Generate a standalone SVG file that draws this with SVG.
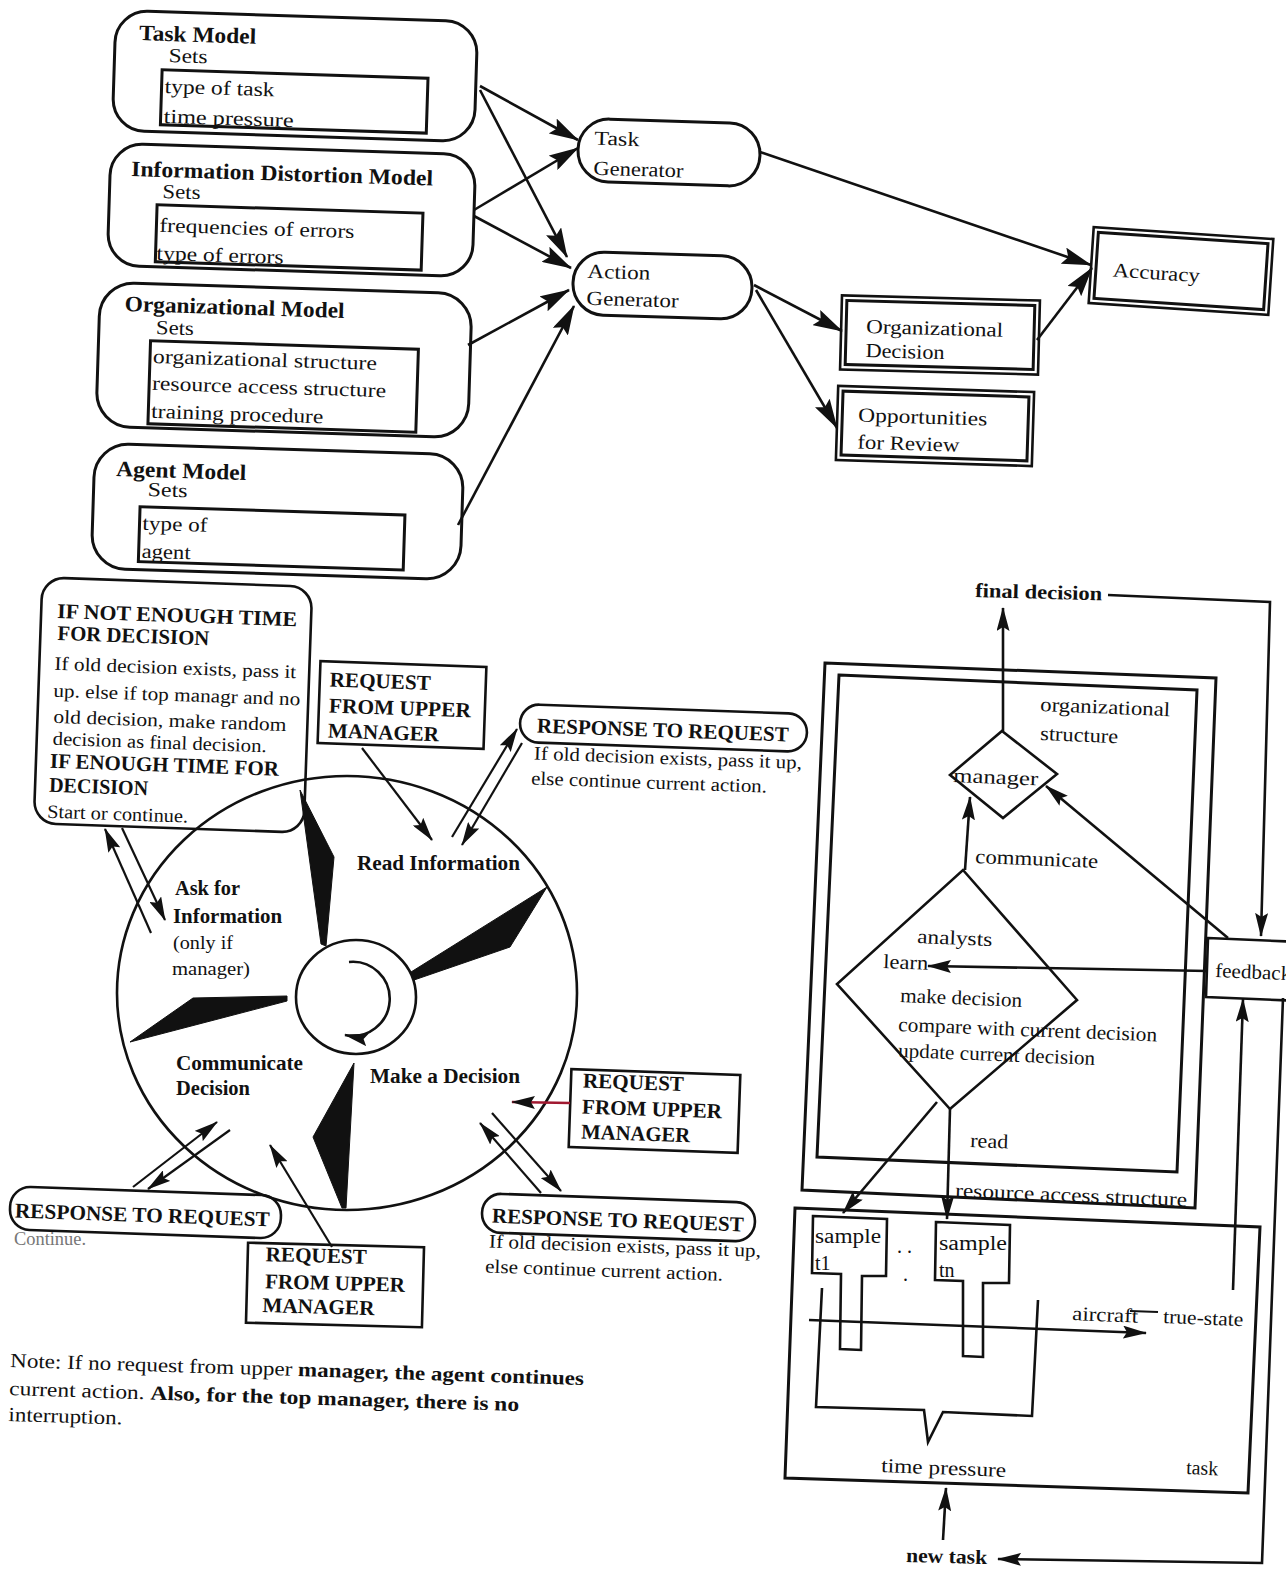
<svg xmlns="http://www.w3.org/2000/svg" width="1286" height="1570" viewBox="0 0 1286 1570">
<defs>
<style>
.bx{fill:none;stroke:#111;stroke-width:3}
.ln{fill:none;stroke:#111;stroke-width:2.6}
.thin{fill:none;stroke:#111;stroke-width:2.2}
.t{font-family:"Liberation Serif","Times New Roman",serif;font-size:20px;fill:#111}
.tb{font-weight:bold}
.big{font-size:22px}
.cap{font-size:21px;font-weight:bold}
.sm{font-size:19px}
.blade{fill:#111;stroke:#111;stroke-width:1}
.a{marker-end:url(#ah)}
.al{marker-end:url(#ahL)}
</style>
<marker id="ah" viewBox="0 0 24 13" refX="23" refY="6.5" markerWidth="24" markerHeight="13" markerUnits="userSpaceOnUse" orient="auto"><path d="M0,0 L24,6.5 L0,13 L4,6.5 z" fill="#111"/></marker>
<marker id="ahL" viewBox="0 0 30 17" refX="29" refY="8.5" markerWidth="30" markerHeight="17" markerUnits="userSpaceOnUse" orient="auto"><path d="M0,0 L30,8.5 L0,17 L5,8.5 z" fill="#111"/></marker>
</defs>
<rect width="1286" height="1570" fill="#fff"/>

<!-- ===== Top section nodes ===== -->
<g id="task-model" transform="rotate(1.8 295 76)">
<rect class="bx" x="114" y="16" width="362" height="120" rx="32"/>
<text class="t tb big" x="138" y="45" textLength="117" lengthAdjust="spacingAndGlyphs">Task Model</text>
<text class="t" x="168" y="66" textLength="39" lengthAdjust="spacingAndGlyphs">Sets</text>
<rect class="bx" x="162" y="74" width="266" height="55"/>
<text class="t" x="165" y="97" textLength="110" lengthAdjust="spacingAndGlyphs">type of task</text>
<text class="t" x="165" y="127" textLength="130" lengthAdjust="spacingAndGlyphs">time pressure</text>
</g>
<g id="info-distortion-model" transform="rotate(1.8 291 210)">
<rect class="bx" x="109" y="149" width="365" height="122" rx="32"/>
<text class="t tb big" x="130" y="181" textLength="302" lengthAdjust="spacingAndGlyphs">Information Distortion Model</text>
<text class="t" x="162" y="202" textLength="38" lengthAdjust="spacingAndGlyphs">Sets</text>
<rect class="bx" x="157" y="209" width="266" height="57"/>
<text class="t" x="160" y="236" textLength="195" lengthAdjust="spacingAndGlyphs">frequencies of errors</text>
<text class="t" x="158" y="264" textLength="127" lengthAdjust="spacingAndGlyphs">type of errors</text>
</g>
<g id="organizational-model" transform="rotate(1.8 284 360)">
<rect class="bx" x="98" y="288" width="372" height="144" rx="34"/>
<text class="t tb big" x="123" y="316" textLength="220" lengthAdjust="spacingAndGlyphs">Organizational Model</text>
<text class="t" x="155" y="338" textLength="38" lengthAdjust="spacingAndGlyphs">Sets</text>
<rect class="bx" x="150" y="345" width="268" height="83"/>
<text class="t" x="153" y="367" textLength="224" lengthAdjust="spacingAndGlyphs">organizational structure</text>
<text class="t" x="153" y="394" textLength="234" lengthAdjust="spacingAndGlyphs">resource access structure</text>
<text class="t" x="153" y="422" textLength="172" lengthAdjust="spacingAndGlyphs">training procedure</text>
</g>
<g id="agent-model" transform="rotate(1.8 277 511)">
<rect class="bx" x="93" y="449" width="369" height="125" rx="34"/>
<text class="t tb big" x="115" y="481" textLength="130" lengthAdjust="spacingAndGlyphs">Agent Model</text>
<text class="t" x="147" y="500" textLength="40" lengthAdjust="spacingAndGlyphs">Sets</text>
<rect class="bx" x="140" y="511" width="265" height="55"/>
<text class="t" x="143" y="534" textLength="65" lengthAdjust="spacingAndGlyphs">type of</text>
<text class="t" x="143" y="562" textLength="49" lengthAdjust="spacingAndGlyphs">agent</text>
</g>
<g id="task-generator" transform="rotate(1.8 669 152)">
<rect class="bx" x="578" y="121" width="182" height="63" rx="31"/>
<text class="t" x="594" y="147" textLength="45" lengthAdjust="spacingAndGlyphs">Task</text>
<text class="t" x="594" y="177" textLength="90" lengthAdjust="spacingAndGlyphs">Generator</text>
</g>
<g id="action-generator" transform="rotate(1.8 662 285)">
<rect class="bx" x="573" y="254" width="179" height="63" rx="31"/>
<text class="t" x="587" y="280" textLength="63" lengthAdjust="spacingAndGlyphs">Action</text>
<text class="t" x="587" y="307" textLength="92" lengthAdjust="spacingAndGlyphs">Generator</text>
</g>
<g id="accuracy" transform="rotate(3.8 1181 271)">
<rect class="ln" x="1091" y="233" width="180" height="76"/>
<rect class="bx" x="1096" y="238" width="170" height="66"/>
<text class="t" x="1113" y="281" textLength="87" lengthAdjust="spacingAndGlyphs">Accuracy</text>
</g>
<g id="organizational-decision" transform="rotate(1.5 940 335)">
<rect class="ln" x="841" y="298" width="198" height="74"/>
<rect class="bx" x="846" y="303" width="188" height="64"/>
<text class="t" x="866" y="335" textLength="137" lengthAdjust="spacingAndGlyphs">Organizational</text>
<text class="t" x="866" y="359" textLength="79" lengthAdjust="spacingAndGlyphs">Decision</text>
</g>
<g id="opportunities-for-review" transform="rotate(1.8 935 426)">
<rect class="ln" x="837" y="389" width="196" height="74"/>
<rect class="bx" x="842" y="394" width="186" height="64"/>
<text class="t" x="858" y="424" textLength="129" lengthAdjust="spacingAndGlyphs">Opportunities</text>
<text class="t" x="858" y="451" textLength="102" lengthAdjust="spacingAndGlyphs">for Review</text>
</g>

<!-- ===== Bottom-left nodes ===== -->
<g id="cycle-wheel">
<ellipse class="ln" cx="347" cy="993" rx="230" ry="217"/>
<ellipse class="ln" cx="356" cy="997" rx="60" ry="57"/>
<path class="ln" d="M349,962 A37,37 0 1 1 345,1035" marker-end="url(#ah)"/>
<polygon class="blade" points="300,790 334,857 326,946 321,944"/>
<polygon class="blade" points="547,887 510,947 414,980 411,972"/>
<polygon class="blade" points="130,1042 193,998 287,996 287,1001"/>
<polygon class="blade" points="354,1063 313,1137 342,1208 346,1208"/>
<text class="t tb" x="357" y="870" textLength="163" lengthAdjust="spacingAndGlyphs">Read Information</text>
<text class="t tb" x="175" y="895" textLength="65" lengthAdjust="spacingAndGlyphs">Ask for</text>
<text class="t tb" x="173" y="923" textLength="109" lengthAdjust="spacingAndGlyphs">Information</text>
<text class="t sm" x="173" y="949" textLength="60" lengthAdjust="spacingAndGlyphs">(only if</text>
<text class="t sm" x="172" y="975" textLength="78" lengthAdjust="spacingAndGlyphs">manager)</text>
<text class="t tb" x="176" y="1070" textLength="127" lengthAdjust="spacingAndGlyphs">Communicate</text>
<text class="t tb" x="176" y="1095" textLength="74" lengthAdjust="spacingAndGlyphs">Decision</text>
<text class="t tb" x="370" y="1083" textLength="150" lengthAdjust="spacingAndGlyphs">Make a Decision</text>
</g>
<g id="time-check" transform="rotate(2 173 705)">
<rect class="ln" x="38" y="582" width="270" height="246" rx="22"/>
<text class="t cap" x="54" y="622" textLength="240" lengthAdjust="spacingAndGlyphs">IF  NOT ENOUGH TIME</text>
<text class="t cap" x="55" y="644" textLength="152" lengthAdjust="spacingAndGlyphs">FOR DECISION</text>
<text class="t sm" x="53" y="674" textLength="242" lengthAdjust="spacingAndGlyphs">If old decision exists, pass it</text>
<text class="t sm" x="53" y="701" textLength="247" lengthAdjust="spacingAndGlyphs">up. else if top managr and no</text>
<text class="t sm" x="54" y="727" textLength="233" lengthAdjust="spacingAndGlyphs">old decision, make  random</text>
<text class="t sm" x="54" y="749" textLength="214" lengthAdjust="spacingAndGlyphs">decision as final decision.</text>
<text class="t cap" x="52" y="772" textLength="229" lengthAdjust="spacingAndGlyphs">IF ENOUGH TIME FOR</text>
<text class="t cap" x="52" y="796" textLength="99" lengthAdjust="spacingAndGlyphs">DECISION</text>
<text class="t sm" x="51" y="822" textLength="141" lengthAdjust="spacingAndGlyphs">Start or continue.</text>
</g>
<g id="request-top" transform="rotate(2 402 705)">
<rect class="ln" x="319" y="664" width="166" height="82"/>
<text class="t cap" x="329" y="689" textLength="101" lengthAdjust="spacingAndGlyphs">REQUEST</text>
<text class="t cap" x="329" y="715" textLength="142" lengthAdjust="spacingAndGlyphs">FROM UPPER</text>
<text class="t cap" x="329" y="740" textLength="111" lengthAdjust="spacingAndGlyphs">MANAGER</text>
</g>
<g id="response-top" transform="rotate(2 663 728)">
<rect class="ln" x="520" y="709" width="287" height="38" rx="19"/>
<text class="t cap" x="537" y="737" textLength="252" lengthAdjust="spacingAndGlyphs">RESPONSE TO REQUEST</text>
<text class="t sm" x="535" y="764" textLength="268" lengthAdjust="spacingAndGlyphs">If old decision exists, pass it up,</text>
<text class="t sm" x="533" y="789" textLength="236" lengthAdjust="spacingAndGlyphs">else continue current action.</text>
</g>
<g id="request-right" transform="rotate(2 654 1111)">
<rect class="ln" x="570" y="1072" width="169" height="78"/>
<text class="t cap" x="582" y="1090" textLength="101" lengthAdjust="spacingAndGlyphs">REQUEST</text>
<text class="t cap" x="582" y="1116" textLength="140" lengthAdjust="spacingAndGlyphs">FROM UPPER</text>
<text class="t cap" x="582" y="1141" textLength="109" lengthAdjust="spacingAndGlyphs">MANAGER</text>
</g>
<g id="response-bottom-right" transform="rotate(2 618 1217)">
<rect class="ln" x="482" y="1198" width="273" height="39" rx="19"/>
<text class="t cap" x="492" y="1227" textLength="252" lengthAdjust="spacingAndGlyphs">RESPONSE TO REQUEST</text>
<text class="t sm" x="490" y="1252" textLength="272" lengthAdjust="spacingAndGlyphs">If old decision exists, pass it up,</text>
<text class="t sm" x="487" y="1277" textLength="238" lengthAdjust="spacingAndGlyphs">else continue current action.</text>
</g>
<g id="request-bottom" transform="rotate(1.5 335 1285)">
<rect class="ln" x="247" y="1245" width="176" height="80"/>
<text class="t cap" x="265" y="1263" textLength="101" lengthAdjust="spacingAndGlyphs">REQUEST</text>
<text class="t cap" x="265" y="1290" textLength="140" lengthAdjust="spacingAndGlyphs">FROM UPPER</text>
<text class="t cap" x="263" y="1314" textLength="112" lengthAdjust="spacingAndGlyphs">MANAGER</text>
</g>
<g id="response-bottom-left" transform="rotate(2 145 1212)">
<rect class="ln" x="10" y="1191" width="271" height="43" rx="20"/>
<text class="t cap" x="15" y="1222" textLength="255" lengthAdjust="spacingAndGlyphs">RESPONSE TO REQUEST</text>
</g>
<text class="t sm" x="14" y="1245" style="fill:#777" textLength="72" lengthAdjust="spacingAndGlyphs">Continue.</text>
<g id="note">
<text class="t" x="10" y="1367" transform="rotate(1.8 10 1367)" textLength="574" lengthAdjust="spacingAndGlyphs">Note: If no request from upper <tspan class="tb">manager, the agent continues</tspan></text>
<text class="t" x="10" y="1395" transform="rotate(1.8 10 1367)" textLength="510" lengthAdjust="spacingAndGlyphs">current action.   <tspan class="tb">Also, for the top manager, there is no</tspan></text>
<text class="t" x="10" y="1421" transform="rotate(1.8 10 1367)" textLength="114" lengthAdjust="spacingAndGlyphs">interruption.</text>
</g>

<!-- ===== Right panel nodes ===== -->
<g id="resource-access-structure">
<polygon class="bx" points="825,663 1216,678 1195,1208 802,1190"/>
<text class="t" x="955" y="1197" transform="rotate(2.3 955 1197)" textLength="232" lengthAdjust="spacingAndGlyphs">resource access structure</text>
</g>
<g id="organizational-structure">
<polygon class="bx" points="839,675 1197,690 1177,1172 817,1157"/>
<text class="t" x="1040" y="711" transform="rotate(2.3 1040 711)" textLength="130" lengthAdjust="spacingAndGlyphs">organizational</text>
<text class="t" x="1040" y="740" transform="rotate(2.3 1040 740)" textLength="78" lengthAdjust="spacingAndGlyphs">structure</text>
</g>
<g id="manager">
<polygon class="ln" points="1002,731 1057,774 1003,818 950,775"/>
<text class="t" x="953" y="782" transform="rotate(2.3 953 782)" textLength="85" lengthAdjust="spacingAndGlyphs">manager</text>
</g>
<g id="analysts">
<polygon class="ln" points="963,870 1077,1000 950,1109 837,984"/>
<text class="t" x="917" y="943" transform="rotate(2.3 917 943)" textLength="75" lengthAdjust="spacingAndGlyphs">analysts</text>
<text class="t" x="883" y="968" transform="rotate(2.3 883 968)" textLength="45" lengthAdjust="spacingAndGlyphs">learn</text>
<text class="t" x="900" y="1002" transform="rotate(2.3 900 1002)" textLength="122" lengthAdjust="spacingAndGlyphs">make decision</text>
<text class="t" x="898" y="1031" transform="rotate(2.3 898 1031)" textLength="259" lengthAdjust="spacingAndGlyphs">compare with current decision</text>
<text class="t" x="898" y="1057" transform="rotate(2.3 898 1057)" textLength="197" lengthAdjust="spacingAndGlyphs">update current decision</text>
</g>
<g id="feedback">
<polygon class="ln" points="1208,938 1300,942 1300,1001 1206,997"/>
<text class="t" x="1215" y="977" transform="rotate(2.3 1215 977)" textLength="76" lengthAdjust="spacingAndGlyphs">feedback</text>
</g>
<g id="task">
<polygon class="bx" points="795,1208 1260,1227 1248,1493 785,1478"/>
<text class="t" x="881" y="1472" transform="rotate(2.3 881 1472)" textLength="125" lengthAdjust="spacingAndGlyphs">time pressure</text>
<text class="t" x="1186" y="1474" transform="rotate(2.3 1186 1474)" textLength="32" lengthAdjust="spacingAndGlyphs">task</text>
<text class="t" x="1072" y="1320" transform="rotate(2.3 1072 1320)" textLength="66" lengthAdjust="spacingAndGlyphs">aircraft</text>
<text class="t" x="1163" y="1323" transform="rotate(2.3 1163 1323)" textLength="80" lengthAdjust="spacingAndGlyphs">true-state</text>
<path class="thin" d="M1130,1311 L1158,1312"/>
<path class="ln" d="M822,1288 L816,1407 L924,1410 L928,1442 L943,1412 L1032,1416 L1038,1300"/>
<text class="t" x="897" y="1253">. .</text>
<text class="t" x="903" y="1281">.</text>
</g>
<g id="sample-t1">
<text class="t" x="815" y="1243" textLength="66" lengthAdjust="spacingAndGlyphs">sample</text>
<text class="t" x="815" y="1270">t1</text>
<polygon class="ln" points="813,1216 887,1219 886,1276 862,1276 861,1350 840,1349 841,1274 812,1273"/>
</g>
<g id="sample-tn">
<text class="t" x="939" y="1250" textLength="68" lengthAdjust="spacingAndGlyphs">sample</text>
<text class="t" x="939" y="1277">tn</text>
<polygon class="ln" points="936,1222 1010,1225 1009,1283 983,1283 983,1357 963,1356 963,1281 935,1280"/>
</g>
<text id="final-decision" class="t tb" x="975" y="597" transform="rotate(1.5 975 597)" textLength="127" lengthAdjust="spacingAndGlyphs">final decision</text>
<text id="new-task" class="t tb" x="906" y="1562" transform="rotate(1.5 906 1562)" textLength="81" lengthAdjust="spacingAndGlyphs">new task</text>
<text class="t" x="970" y="1147" transform="rotate(2.3 970 1147)" textLength="38" lengthAdjust="spacingAndGlyphs">read</text>
<text class="t" x="975" y="863" transform="rotate(2.3 975 863)" textLength="123" lengthAdjust="spacingAndGlyphs">communicate</text>

<!-- ===== Connectors ===== -->
<g id="connectors">
<path class="ln al" d="M480,86 L578,140"/>
<path class="ln al" d="M480,90 L567,257"/>
<path class="ln al" d="M474,210 L578,148"/>
<path class="ln al" d="M474,216 L571,268"/>
<path class="ln al" d="M468,345 L569,290"/>
<path class="ln al" d="M458,525 L574,306"/>
<path class="ln al" d="M760,152 L1091,265"/>
<path class="ln al" d="M754,285 L842,331"/>
<path class="ln al" d="M756,290 L837,428"/>
<path class="ln al" d="M1037,340 L1092,268"/>

<path class="thin a" d="M362,748 L432,840"/>
<path class="thin a" d="M452,837 L517,729"/>
<path class="thin a" d="M522,743 L462,845"/>
<path class="thin a" d="M151,933 L105,829"/>
<path class="thin a" d="M122,828 L165,920"/>
<path class="thin a" d="M133,1187 L217,1122"/>
<path class="thin a" d="M230,1130 L148,1189"/>
<path class="thin a" d="M332,1247 L270,1145"/>
<path class="thin a" d="M492,1113 L561,1191"/>
<path class="thin a" d="M541,1193 L480,1123"/>
<path d="M570,1103 L512,1102" fill="none" stroke="#a01830" stroke-width="2.4" marker-end="url(#ah)"/>

<path class="ln a" d="M1003,731 L1003,608"/>
<path class="ln a" d="M965,870 L970,797"/>
<path class="ln a" d="M1228,938 L1046,786"/>
<path class="ln a" d="M1208,971 L928,966"/>
<path class="ln a" d="M937,1102 L843,1213"/>
<path class="ln a" d="M950,1109 L947,1219"/>
<path class="ln a" d="M1233,1290 L1243,999"/>
<path class="ln a" d="M1108,595 L1270,602 L1261,936"/>
<path class="ln a" d="M1283,998 L1262,1563 L998,1559"/>
<path class="ln a" d="M943,1540 L946,1488"/>
<path class="ln a" d="M809,1320 L1146,1333"/>
</g>
</svg>
